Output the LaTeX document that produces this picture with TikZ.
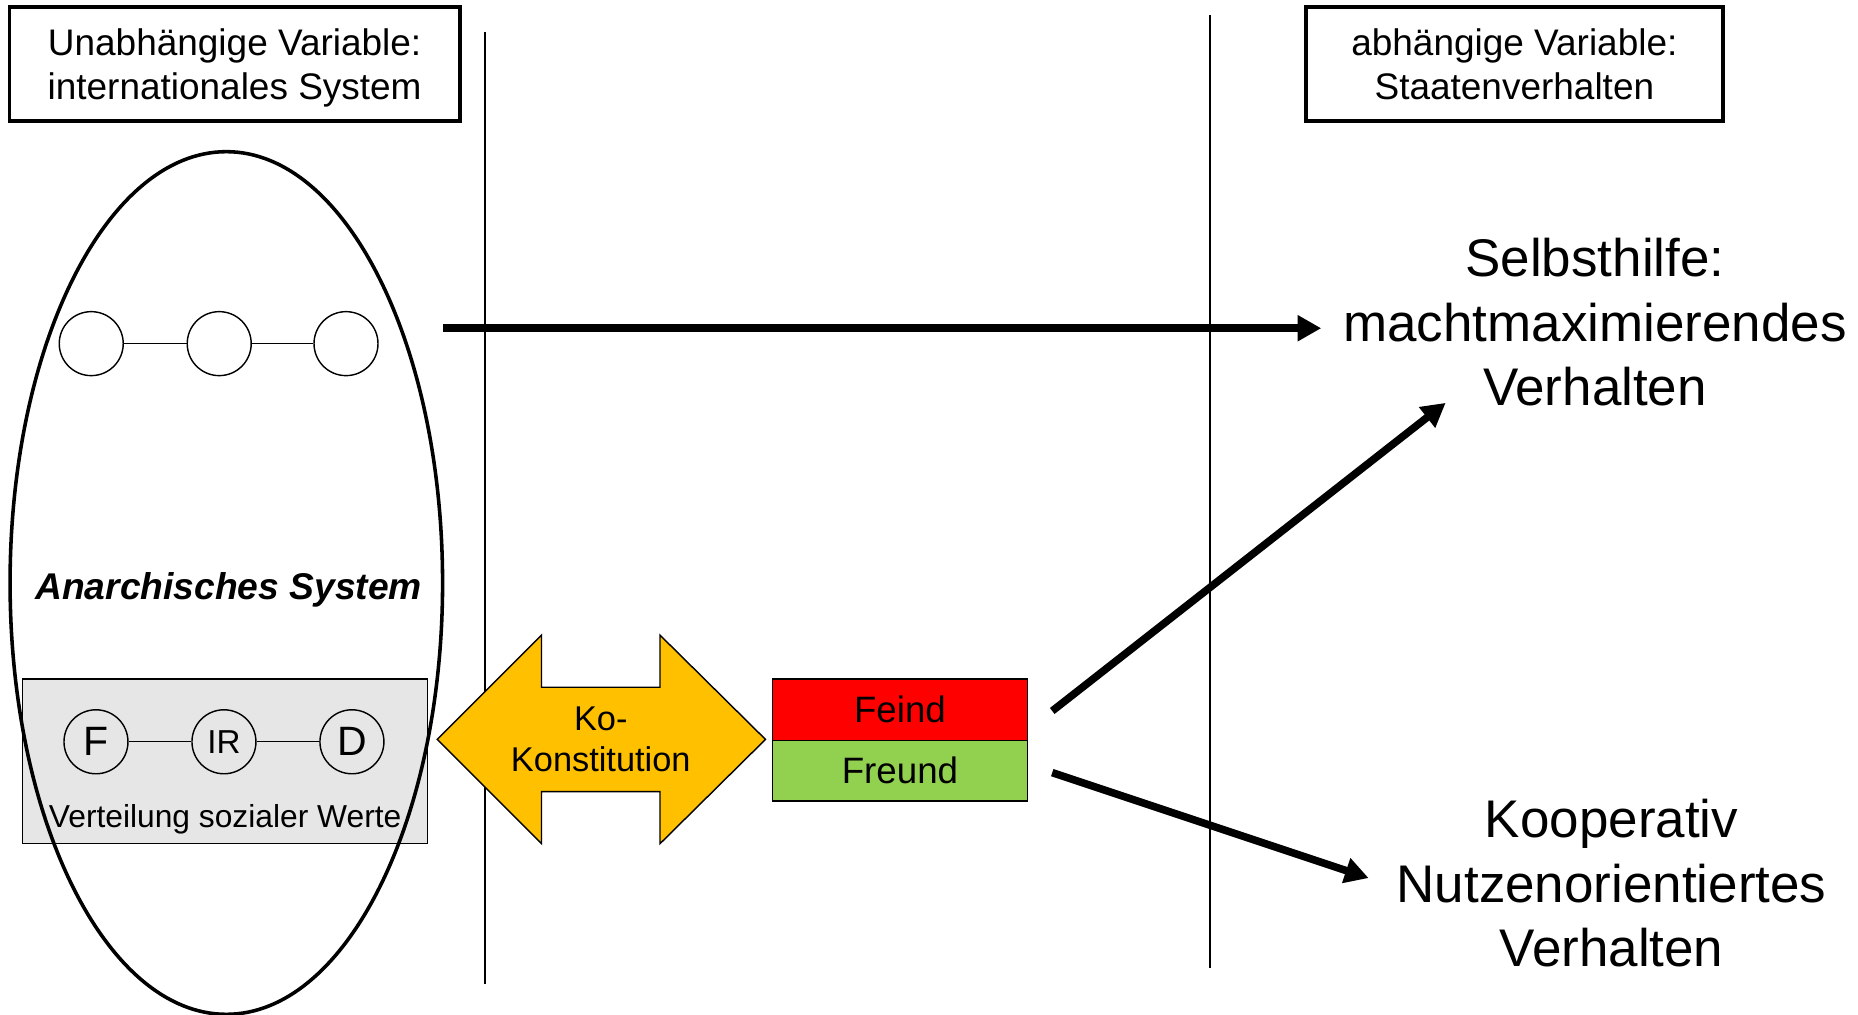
\documentclass[tikz,border=0pt]{standalone}
\usepackage{fontspec}
\setmainfont{Liberation Sans}
\usetikzlibrary{shapes.geometric,arrows.meta}
\definecolor{gold}{HTML}{FFC000}
\definecolor{feindred}{HTML}{FF0000}
\definecolor{freundgreen}{HTML}{92D050}
\definecolor{grayfill}{HTML}{E6E6E6}
\begin{document}
\begin{tikzpicture}[x=0.5pt,y=-0.5pt,
  varbox/.style={draw,line width=1.6pt,inner sep=0pt,align=center,font=\fontsize{15.6}{18.5}\selectfont},
  vline/.style={line width=0.8pt},
  smallcirc/.style={circle,draw,line width=0.6pt,minimum size=27pt,inner sep=0pt},
  thinl/.style={line width=0.6pt},
  bigarrow/.style={line width=3.2pt,-{Triangle[length=10pt,width=10.5pt]}},
  bigtext/.style={align=center,inner sep=0pt,font=\fontsize{22.35}{27.25}\selectfont},
  fbox/.style={draw,line width=0.7pt,minimum width=107.5pt,inner sep=0pt,font=\fontsize{15.5}{15.5}\selectfont}
]
\useasboundingbox (0,0) rectangle (1568,856);

% header boxes
\node[varbox,minimum width=190pt,minimum height=48pt] (uv) at (198,54) {Unabhängige Variable:\\\raisebox{0pt}[\height][0pt]{internationales System}};
\node[varbox,minimum width=176pt,minimum height=48pt] (av) at (1278,54) {abhängige Variable:\\Staatenverhalten};

% vertical separators
\draw[vline] (409,27) -- (409,830);
\draw[vline] (1021,13) -- (1021,817);

% social distribution box
\node[draw,line width=0.6pt,fill=grayfill,minimum width=171pt,minimum height=69.5pt,inner sep=0pt] (dist) at (190,642.5) {};

% anarchic system ellipse
\node[ellipse,draw,line width=1.5pt,minimum width=182.5pt,minimum height=364pt,inner sep=0pt] (anarch) at (191,492) {};
\node[font=\fontsize{15.7}{15.7}\selectfont\bfseries\itshape] (anlabel) at (193,498) {Anarchisches System};

% top circles
\node[smallcirc] (c1) at (77,290) {};
\node[smallcirc] (c2) at (185,290) {};
\node[smallcirc] (c3) at (292,290) {};
\draw[thinl] (c1) -- (c2);
\draw[thinl] (c2) -- (c3);

% F IR D
\node[smallcirc,font=\fontsize{17.3}{17.3}\selectfont] (f) at (81,626) {F};
\node[smallcirc,font=\fontsize{14}{14}\selectfont] (ir) at (189,626) {IR};
\node[smallcirc,font=\fontsize{17.3}{17.3}\selectfont] (d) at (297,626) {D};
\draw[thinl] (f) -- (ir);
\draw[thinl] (ir) -- (d);
\node[font=\fontsize{13.4}{13.4}\selectfont] (vsw) at (190,691) {Verteilung sozialer Werte};

% Ko-Konstitution double arrow
\draw[line width=0.6pt,fill=gold] (369,624) -- (457,536) -- (457,580) -- (557,580) -- (557,536) -- (646,624) -- (557,712) -- (557,668) -- (457,668) -- (457,712) -- cycle;
\node[align=center,font=\fontsize{14.5}{17.5}\selectfont] (ko) at (507,624) {Ko-\\Konstitution};

% Feind / Freund
\node[fbox,fill=feindred,minimum height=26pt] (feind) at (759.5,599) {\raisebox{-1pt}{Feind}};
\node[fbox,fill=freundgreen,minimum height=25.5pt] (freund) at (759.5,650.5) {\raisebox{-1pt}{Freund}};

% outcomes
\node[bigtext] (selbst) at (1346,272) {Selbsthilfe:\\machtmaximierendes\\Verhalten};
\node[bigtext] (koop) at (1360,745.5) {Kooperativ\\Nutzenorientiertes\\Verhalten};

% arrows
\coordinate (hs) at (374,277);
\coordinate (he) at (1115,277);
\draw[bigarrow] (hs) -- (he);
\coordinate (fs) at (888,600);
\coordinate (fe) at (1220,340);
\draw[bigarrow] (fs) -- (fe);
\coordinate (gs) at (888,652);
\coordinate (ge) at (1155,741);
\draw[bigarrow] (gs) -- (ge);
\end{tikzpicture}
\end{document}
